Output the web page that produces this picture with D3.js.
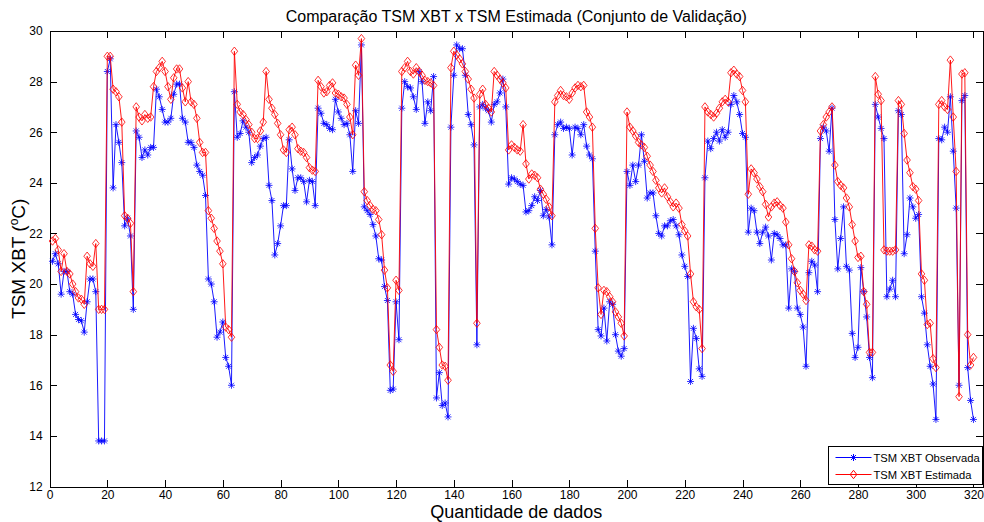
<!DOCTYPE html>
<html>
<head>
<meta charset="utf-8">
<script src="https://cdn.jsdelivr.net/npm/d3@7"></script>
<style>
  body { margin: 0; background: #fff; }
  svg { display: block; font-family: "Liberation Sans", Arial, sans-serif; }
</style>
</head>
<body>
<svg id="chart" width="984" height="522"></svg>
<script>
// TSM XBT observada (azul) e estimada (vermelho), pontos 1..320
const observada = [
  20.9, 21.2, 20.8, 19.6, 20.5, 20.5, 19.7, 19.6, 18.8, 18.6, 18.55, 18.1, 19.3, 20.2, 20.2, 19.7, 13.8, 13.8, 13.8, 28.4,
  28.9, 23.8, 26.3, 25.6, 24.8, 22.3, 22.6, 21.9, 19.0, 26.05,
  25.8, 25.0, 25.3, 25.1, 25.4, 25.4, 27.7, 27.4, 26.9, 26.4, 26.4, 26.55, 27.5, 27.9, 27.9, 26.55, 26.4, 25.6, 25.6, 25.4,
  24.7, 24.45, 24.3, 23.5, 20.2, 20.0, 19.3, 17.9, 18.1, 18.5,
  17.1, 16.75, 16.0, 27.6, 25.8, 25.95, 26.45, 26.2, 26.0, 24.8, 25.0, 25.1, 25.45, 25.75, 25.8, 23.9, 23.3, 21.15, 21.6, 22.3,
  23.1, 23.1, 25.7, 24.55, 23.7, 24.2, 24.2, 24.05, 23.25, 24.1, 24.05, 23.1,
  26.95, 26.75, 26.35, 26.3, 26.15, 26.1, 27.3, 26.8, 26.55, 26.3, 26.35, 25.9, 24.45, 26.85, 26.35, 29.45,
  23.05, 22.9, 22.75, 22.35, 21.9, 21.0, 20.95, 19.9, 19.35, 15.8, 15.85, 19.3, 17.8, 26.95,
  28.0, 27.8, 27.75, 27.4, 26.9, 28.4, 28.0, 26.35, 27.2, 26.85, 28.2, 15.5, 16.5, 15.2, 15.3, 14.75, 26.2, 28.25, 29.45, 29.3,
  29.3, 28.25, 26.7, 26.3, 25.5, 17.6, 27.0, 27.1, 26.95, 26.85, 26.4,
  27.1, 27.2, 27.55, 28.1, 27.0, 23.95, 24.2, 24.15, 24.05, 23.95, 23.9, 22.85, 22.9, 23.1, 23.45, 23.3, 23.7, 22.7, 22.95, 22.65,
  21.55, 25.9, 26.3, 26.4, 26.15, 26.2, 26.15, 25.1, 26.2, 26.15, 25.9, 26.3, 25.45,
  25.1, 24.95, 21.3, 18.2, 17.95, 19.05, 17.75, 19.3, 19.2, 18.0, 17.35, 17.15, 17.45, 24.45, 23.9, 24.7, 24.05, 24.7, 25.9, 24.85,
  23.4, 23.6, 23.6, 22.7, 22.0, 21.9, 22.3, 22.3, 22.5, 22.55,
  22.3, 21.95, 21.15, 20.7, 20.3, 16.15, 18.25, 17.85, 16.65, 16.35, 24.2, 25.65, 25.35, 25.75, 26.0, 25.65, 26.1, 25.8, 26.0, 27.1,
  27.45, 27.2, 26.7, 25.95, 25.8, 22.05, 23.0, 22.9, 22.05, 21.6, 22.05,
  22.25, 21.9, 20.95, 22.0, 21.95, 21.8, 21.55, 21.55, 19.05, 20.6, 20.5, 19.05, 18.8, 18.3, 16.75, 20.45, 20.9, 20.75, 19.7, 25.75,
  26.2, 26.05, 25.25, 26.95, 22.55, 20.6, 21.8, 23.05, 20.7, 20.55, 18.05, 17.1,
  17.5, 20.65, 19.7, 18.7, 17.1, 16.3, 27.1, 26.6, 26.15, 25.75, 19.5, 19.8, 20.15, 19.5, 26.85, 26.7, 21.2, 21.95, 23.4, 23.05,
  22.6, 22.75, 19.5, 18.85, 17.6, 16.75, 16.05, 14.65,
  25.75, 25.7, 26.2, 26.0, 27.4, 25.25, 23.0, 16.0, 27.25, 27.45, 16.7, 15.4, 14.65
];

const estimada = [
  21.7, 21.8, 21.35, 20.5, 21.2, 20.5, 20.4, 20.0, 19.7, 19.45, 19.4, 19.2, 21.1, 20.8, 20.7, 21.6, 19.0, 19.0, 19.0, 29.0,
  29.0, 27.7, 27.6, 27.4, 26.4, 22.7, 22.6, 22.4, 19.7, 27.0,
  26.6, 26.45, 26.7, 26.55, 26.6, 27.8, 28.4, 28.55, 28.8, 28.4, 27.8, 27.3, 28.15, 28.5, 28.5, 27.75, 27.2, 28.0, 27.2, 27.1,
  26.55, 25.6, 25.2, 25.2, 22.9, 22.6, 22.2, 21.7, 21.3, 20.8,
  18.3, 18.2, 17.9, 29.2, 27.1, 26.8, 26.7, 26.5, 26.3, 26.0, 25.75, 25.75, 26.05, 26.4, 28.4, 27.3, 26.95, 26.7, 26.35, 25.9,
  25.3, 25.2, 26.1, 26.2, 25.9, 25.35, 25.25, 25.2, 25.0, 24.6, 24.5, 24.45,
  28.05, 27.8, 27.55, 27.6, 27.85, 27.95, 27.55, 27.5, 27.4, 27.35, 27.1, 26.6, 25.9, 28.65, 28.25, 29.7,
  23.65, 23.3, 23.1, 22.95, 22.9, 22.55, 21.95, 20.55, 19.85, 16.8, 16.55, 20.15, 19.75, 28.4,
  28.55, 28.8, 28.4, 28.3, 28.55, 28.4, 28.25, 28.05, 28.0, 27.95, 27.85, 18.2, 17.5, 16.8, 16.75, 16.2, 28.55, 29.2, 29.05, 28.9,
  28.7, 28.4, 28.1, 27.7, 27.35, 18.45, 27.5, 27.7, 27.1, 26.95, 26.8,
  28.4, 28.25, 28.1, 27.95, 27.75, 25.3, 25.5, 25.4, 25.3, 25.25, 26.3, 24.75, 24.15, 24.35, 24.3, 24.2, 23.75, 23.55, 23.35, 23.05,
  22.7, 27.2, 27.45, 27.65, 27.45, 27.4, 27.3, 27.55, 27.75, 27.85, 27.8, 27.85, 26.8,
  26.6, 26.2, 22.2, 19.85, 18.8, 19.75, 19.7, 19.5, 19.3, 18.9, 18.7, 18.45, 17.95, 26.8, 26.2, 26.05, 25.85, 25.6, 25.5, 25.4,
  25.05, 24.7, 24.45, 24.1, 23.8, 23.6, 23.8, 23.45, 23.25, 23.05,
  23.2, 23.0, 22.35, 22.1, 21.9, 20.4, 19.3, 19.1, 19.0, 17.45, 27.0, 26.8, 26.7, 26.6, 26.75, 26.95, 27.2, 27.3, 27.2, 28.35,
  28.45, 28.3, 28.2, 27.65, 27.2, 23.55, 24.55, 24.4, 24.15, 23.85, 23.65,
  23.15, 22.65, 23.05, 23.2, 23.25, 23.1, 23.0, 22.45, 21.55, 21.0, 20.5, 20.05, 19.75, 19.6, 19.35, 21.55, 21.5, 21.35, 21.3, 26.05,
  26.3, 26.6, 26.8, 27.0, 24.7, 24.05, 23.9, 23.8, 23.4, 23.05, 22.35, 21.7,
  21.05, 21.1, 19.7, 19.2, 17.3, 17.3, 28.2, 27.5, 27.25, 21.35, 21.3, 21.3, 21.3, 21.35,
  27.25, 27.1, 25.95, 24.9, 24.4, 23.85, 23.75, 23.3, 20.4, 20.15, 18.4, 18.45, 17.05, 16.7,
  27.1, 27.25, 27.0, 26.9, 28.85, 26.6, 24.45, 15.55, 28.3, 28.35, 18.0, 16.8, 17.1
];

const xTicks = d3.range(0, 321, 20);
const yTicks = d3.range(12, 31, 2);
const seriesNames = ["TSM XBT Observada", "TSM XBT Estimada"];
const titleText = "Comparação TSM XBT x TSM Estimada (Conjunto de Validação)";

const svg = d3.select("#chart");
const margin = { top: 31, right: 1, bottom: 35.5, left: 49.6 };
const width = 984 - margin.left - margin.right;
const height = 522 - margin.top - margin.bottom;

const x = d3.scaleLinear().domain([0, 323.3]).range([0, width]);
const y = d3.scaleLinear().domain([12, 30]).range([height, 0]);

const g = svg.append("g").attr("transform", `translate(${margin.left},${margin.top})`);

// axes box with inward ticks on all sides
const styleAxis = (sel) => {
  sel.select(".domain").attr("stroke", "#000").attr("shape-rendering", "crispEdges");
  sel.selectAll(".tick line").attr("stroke", "#000").attr("shape-rendering", "crispEdges");
  sel.selectAll("text").attr("fill", "#000").style("font-size", "12px");
};
g.append("g").attr("transform", `translate(0,${height})`)
  .call(d3.axisBottom(x).tickValues(xTicks).tickSizeInner(-7).tickSizeOuter(0).tickPadding(4))
  .call(styleAxis);
g.append("g")
  .call(d3.axisTop(x).tickValues(xTicks).tickSizeInner(-7).tickSizeOuter(0).tickFormat(""))
  .call(styleAxis);
g.append("g")
  .call(d3.axisLeft(y).tickValues(yTicks).tickSizeInner(-7).tickSizeOuter(0).tickPadding(7))
  .call(styleAxis);
g.append("g").attr("transform", `translate(${width},0)`)
  .call(d3.axisRight(y).tickValues(yTicks).tickSizeInner(-7).tickSizeOuter(0).tickFormat(""))
  .call(styleAxis);

const line = d3.line().x((d, i) => x(i + 1)).y((d) => y(d));

const star = "M-3.5,0H3.5M0,-3.5V3.5M-2.5,-2.5L2.5,2.5M-2.5,2.5L2.5,-2.5";
const diamond = "M0,-4.2L3.3,0L0,4.2L-3.3,0Z";

const series = [
  { data: observada, color: "#0000ff", marker: star },
  { data: estimada, color: "#ff0000", marker: diamond },
];

series.forEach((s) => {
  g.append("path")
    .datum(s.data)
    .attr("fill", "none")
    .attr("stroke", s.color)
    .attr("stroke-width", 0.9)
    .attr("d", line);
  g.selectAll(null)
    .data(s.data)
    .enter()
    .append("path")
    .attr("transform", (d, i) => `translate(${x(i + 1)},${y(d)})`)
    .attr("d", s.marker)
    .attr("fill", "none")
    .attr("stroke", s.color)
    .attr("stroke-width", 0.8);
});

// title and labels
svg.append("text")
  .attr("x", margin.left + width / 2)
  .attr("y", 22)
  .attr("text-anchor", "middle")
  .style("font-size", "16px")
  .text(titleText);

svg.append("text")
  .attr("x", margin.left + width / 2)
  .attr("y", 518)
  .attr("text-anchor", "middle")
  .style("font-size", "18px")
  .text("Quantidade de dados");

const yLab = svg.append("text")
  .attr("transform", `translate(25,${margin.top + height / 2}) rotate(-90)`)
  .attr("text-anchor", "middle")
  .style("font-size", "19px");
yLab.append("tspan").text("TSM XBT (");
yLab.append("tspan").attr("dy", -7).style("font-size", "12px").text("o");
yLab.append("tspan").attr("dy", 7).text("C)");

// legend
const lg = svg.append("g").attr("transform", "translate(828.5,446.5)");
lg.append("rect")
  .attr("width", 154)
  .attr("height", 38)
  .attr("fill", "#fff")
  .attr("stroke", "#000")
  .attr("shape-rendering", "crispEdges");
series.forEach((s, i) => {
  const yy = 11 + i * 17;
  lg.append("line")
    .attr("x1", 7).attr("x2", 43)
    .attr("y1", yy).attr("y2", yy)
    .attr("stroke", s.color);
  lg.append("path")
    .attr("transform", `translate(25,${yy})`)
    .attr("d", s.marker)
    .attr("fill", "none")
    .attr("stroke", s.color);
  lg.append("text")
    .attr("x", 45)
    .attr("y", yy + 4)
    .style("font-size", "11.2px")
    .text(seriesNames[i]);
});
</script>
</body>
</html>
